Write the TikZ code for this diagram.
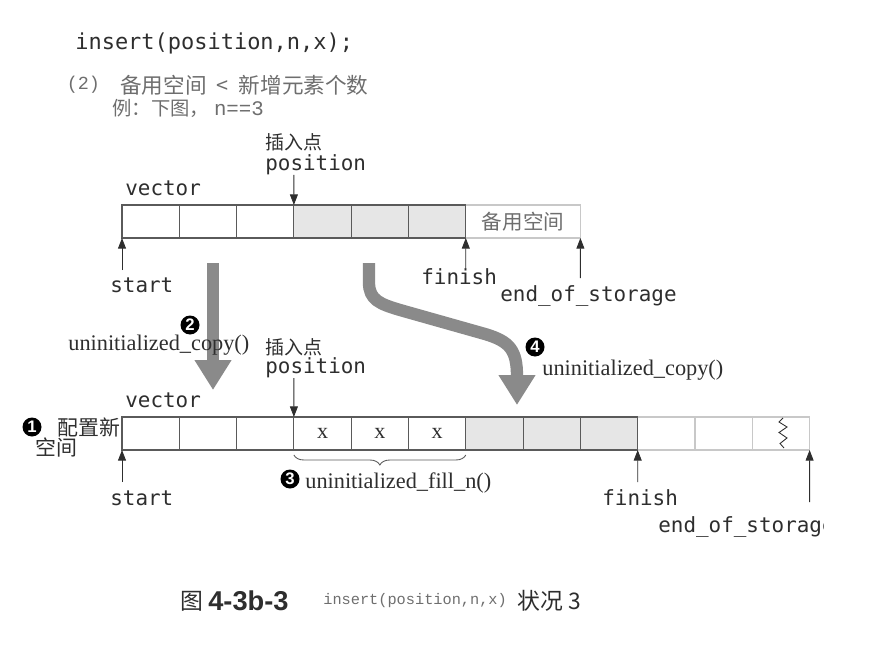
\documentclass[tikz,border=0pt]{standalone}
\usepackage{fontspec}
\usepackage{xcolor}
\usepackage{tikz}
\usetikzlibrary{calc,arrows.meta,decorations.pathreplacing}
\newfontfamily\cjk{Noto Sans CJK SC}
\newfontfamily\mono{DejaVu Sans Mono}
\newfontfamily\tnr{Liberation Serif}
\newfontfamily\cour{Liberation Mono}
\newfontfamily\heavy{Liberation Sans}
\definecolor{ink}{HTML}{2E2E2E}
\definecolor{line}{HTML}{5A5A5A}
\definecolor{faint}{HTML}{C8C8C8}
\definecolor{shade}{HTML}{E6E6E6}
\definecolor{bigarrow}{HTML}{8A8A8A}
\definecolor{soft}{HTML}{6E6E6E}
\tikzset{
  cell/.style={draw=line, line width=0.6pt, minimum width=1.146cm, minimum height=0.66cm, inner sep=0pt, outer sep=0pt, anchor=south west},
  old/.style={cell, fill=shade},
  spare/.style={cell, draw=faint},
  ptr/.style={draw=ink, line width=0.5pt, -{Triangle[width=4.5pt,length=6pt]}},
  big/.style={draw=bigarrow, line width=7pt, -{Triangle[width=0.7cm,length=0.6cm]}},
  code/.style={text=ink, font=\mono\fontsize{11.9}{14}\selectfont, anchor=west, inner sep=0pt},
  zh/.style={text=ink, font=\cjk\fontsize{10.8}{13}\selectfont, anchor=west, inner sep=0pt},
  fn/.style={text=ink, font=\tnr\fontsize{12.7}{15}\selectfont, anchor=west, inner sep=0pt},
  num/.style={circle, fill=black, text=white, inner sep=0pt, minimum size=0.38cm, font=\heavy\bfseries\fontsize{9.5}{9.5}\selectfont},
}
\begin{document}
\begin{tikzpicture}
  \def\cw{1.146}
  \useasboundingbox (0,0) rectangle (17.5,13.3);

  % heading
  \node[code, font=\mono\fontsize{12.5}{15}\selectfont] (call) at (1.5,12.44) {insert(position,n,x);};
  \node[anchor=west, inner sep=0pt, text=soft, font=\cour\fontsize{10.5}{12}\selectfont] (casenum) at (1.33,11.6) {(2)};
  \node[zh, text=soft, font=\cjk\fontsize{12.3}{14}\selectfont] (case) at (2.4,11.6) {备用空间\hspace{0.2cm}<\hspace{0.2cm}新增元素个数};
  \node[zh, text=soft, font=\cjk\fontsize{11}{13}\selectfont] (eg) at (2.24,11.14) {例：下图，\hspace{0.1cm}{\cour\fontsize{11.8}{13}\selectfont n==3}};

  % old vector
  \node[spare, minimum width=2.292cm, text=soft, font=\cjk\fontsize{11.7}{13}\selectfont] (spare) at (2.44+6*\cw,8.54) {备用空间};
  \foreach \i in {0,1,2} \node[cell] (t\i) at (2.44+\i*\cw,8.54) {};
  \foreach \i in {3,4,5} \node[old] (t\i) at (2.44+\i*\cw,8.54) {};
  \node[code] (tvec) at (2.5,9.54) {vector};
  \node[zh] (tins) at (5.3,10.46) {插入点};
  \node[code] (tpos) at (5.3,10.0) {position};
  \node[code] (tstart) at (2.2,7.6) {start};
  \node[code] (tfin) at (8.42,7.76) {finish};
  \node[code] (teos) at (10.0,7.38) {end\_of\_storage};
  \coordinate (tposA) at (5.878,9.8);
  \coordinate (tstartA) at (2.44,7.9);
  \coordinate (tfinA) at (9.316,7.94);
  \coordinate (teosA) at (11.608,7.74);
  \draw[ptr] (tposA) -- (t3.north west);
  \draw[ptr] (tstartA) -- (t0.south west);
  \draw[ptr] (tfinA) -- (t5.south east);
  \draw[ptr] (teosA) -- (spare.south east);

  % big copy arrows
  \coordinate (c2a) at (4.26,8.04);
  \coordinate (c2b) at (4.26,5.5);
  \coordinate (c4a) at (7.38,8.04);
  \coordinate (c4b) at (10.34,5.2);
  \draw[big] (c2a) -- (c2b);
  \draw[big] (c4a) -- (7.38,7.65) .. controls (7.38,7.3) and (7.6,7.22) .. (8.0,7.1)
    -- (9.7,6.62) .. controls (10.2,6.47) and (10.34,6.3) .. (c4b);
  \node[num] (n2) at (3.8,6.8) {2};
  \node[fn] (copyA) at (1.36,6.4) {uninitialized\_copy()};
  \node[num] (n4) at (10.7,6.36) {4};
  \node[fn] (copyB) at (10.84,5.9) {uninitialized\_copy()};

  % new vector
  \foreach \i in {9,10,11} \node[spare] (b\i) at (2.44+\i*\cw,4.3) {};
  \foreach \i in {0,1,2} \node[cell] (b\i) at (2.44+\i*\cw,4.3) {};
  \foreach \i in {3,4,5} \node[cell, font=\tnr\fontsize{12.6}{14}\selectfont, text=ink] (b\i) at (2.44+\i*\cw,4.3) {x};
  \foreach \i in {6,7,8} \node[old] (b\i) at (2.44+\i*\cw,4.3) {};
  \draw[draw=ink, line width=0.5pt] (15.66,4.94) -- (15.58,4.86) -- (15.74,4.76) -- (15.58,4.65)
    -- (15.74,4.54) -- (15.6,4.43) -- (15.68,4.34);
  \node[num] (n1) at (0.64,4.76) {1};
  \node[zh, font=\cjk\fontsize{11.9}{14}\selectfont] (alloc) at (1.14,4.76) {配置新};
  \node[zh, font=\cjk\fontsize{11.9}{14}\selectfont] (alloc2) at (0.7,4.36) {空间};
  \node[code] (bvec) at (2.5,5.3) {vector};
  \node[zh] (bins) at (5.3,6.36) {插入点};
  \node[code] (bpos) at (5.3,5.94) {position};
  \node[code] (bstart) at (2.2,3.34) {start};
  \node[code] (bfin) at (12.04,3.34) {finish};
  \begin{scope}
    \clip (0,0) rectangle (16.46,13.3);
    \node[code] (beos) at (13.16,2.76) {end\_of\_storage};
  \end{scope}
  \coordinate (bposA) at (5.878,5.74);
  \coordinate (bstartA) at (2.44,3.66);
  \coordinate (bfinA) at (12.754,3.66);
  \coordinate (beosA) at (16.192,3.26);
  \draw[ptr] (bposA) -- (b3.north west);
  \draw[ptr] (bstartA) -- (b0.south west);
  \draw[ptr] (bfinA) -- (b8.south east);
  \draw[ptr] (beosA) -- (b11.south east);
  \draw[draw=line, line width=0.5pt, decorate, decoration={brace, mirror, amplitude=0.2cm}]
    ($(b3.south west)+(0,-0.1)$) -- ($(b5.south east)+(0,-0.1)$);
  \node[num] (n3) at (5.8,3.72) {3};
  \node[fn] (fill) at (6.1,3.64) {uninitialized\_fill\_n()};

  % caption
  \node[zh, font=\cjk\fontsize{13}{15}\selectfont] (fig) at (3.6,1.28) {图};
  \node[anchor=west, inner sep=0pt, text=ink, font=\heavy\bfseries\fontsize{15.5}{17}\selectfont] (fignum) at (4.16,1.28) {4-3b-3};
  \node[anchor=west, inner sep=0pt, text=soft, font=\cour\fontsize{8.7}{10}\selectfont] (figcall) at (6.46,1.28) {insert(position,n,x)};
  \node[zh, font=\cjk\fontsize{13}{15}\selectfont] (figcase) at (10.34,1.28) {状况 3};
\end{tikzpicture}
\end{document}
